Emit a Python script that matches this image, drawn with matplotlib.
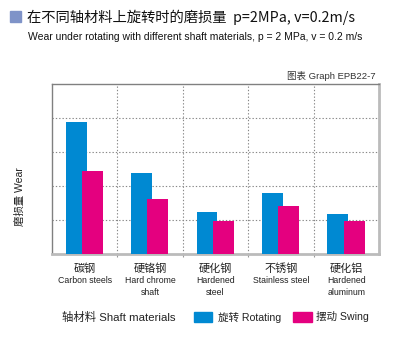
import matplotlib
matplotlib.use('Agg')
import matplotlib.pyplot as plt
from matplotlib.patches import Rectangle

# data
cats_cn = ['碳钢', '硬铬钢', '硬化钢', '不锈钢', '硬化铝']
cats_en = ['Carbon steels', 'Hard chrome\nshaft', 'Hardened\nsteel', 'Stainless steel', 'Hardened\naluminum']
rotating = [3.87, 2.37, 1.24, 1.79, 1.18]
swing = [2.45, 1.62, 0.98, 1.41, 0.98]

BLUE = '#0089D2'
PINK = '#E4007F'
LAT = ['Liberation Sans', 'Noto Sans CJK SC']

W, H = 400, 360
fig = plt.figure(figsize=(4, 3.6), dpi=100)

def fx(x):
    return x / W

def fy(y):
    return 1 - y / H

ax = fig.add_axes([fx(52), fy(254), fx(379) - fx(52), fy(84) - fy(254)])

xs = [i + 0.5 for i in range(len(cats_cn))]
ax.bar([x - 0.13 for x in xs], rotating, width=0.32, color=BLUE, zorder=3)
ax.bar([x + 0.12 for x in xs], swing, width=0.32, color=PINK, zorder=4)

ax.set_xlim(0, 5)
ax.set_ylim(0, 5)
ax.set_yticks([1, 2, 3, 4])
ax.set_xticks([1, 2, 3, 4])
ax.tick_params(left=False, labelleft=False, labelbottom=False,
               bottom=True, length=2, color='#999999', direction='out')
ax.grid(True, linestyle=(0, (1.2, 1.8)), color='#888888', linewidth=0.8, zorder=1)

for s in ['top', 'left']:
    ax.spines[s].set_color('#808080')
    ax.spines[s].set_linewidth(1.0)
for s in ['bottom', 'right']:
    ax.spines[s].set_color('#BBBBBB')
    ax.spines[s].set_linewidth(2.0)

# category labels
for x, cn, en in zip(xs, cats_cn, cats_en):
    xp = 52 + x * (379 - 52) / 5
    fig.text(fx(xp), fy(269), cn, ha='center', va='center', fontsize=8,
             family=['Noto Sans CJK SC'], color='#222222')
    fig.text(fx(xp), fy(276), en, ha='center', va='top', fontsize=6.3,
             family=LAT, color='#222222', linespacing=1.4)

# title block
fig.add_artist(Rectangle((fx(10), fy(22)), fx(10.5), fy(11.5) - fy(22),
                         transform=fig.transFigure, color='#7F93C8'))
fig.text(fx(27), fy(17), '在不同轴材料上旋转时的磨损量  p=2MPa, v=0.2m/s',
         ha='left', va='center', fontsize=10.3, family=['Noto Sans CJK SC'],
         color='#111111')
fig.text(fx(28), fy(37.5),
         'Wear under rotating with different shaft materials, p = 2 MPa, v = 0.2 m/s',
         ha='left', va='center', fontsize=7.5, family=LAT, color='#111111')
fig.text(fx(376), fy(76), '图表 Graph EPB22-7', ha='right', va='center',
         fontsize=6.8, family=LAT, color='#333333')

# y label
fig.text(fx(20), fy(197), '磨损量 Wear', rotation=90, ha='center', va='center',
         fontsize=7.5, family=LAT, color='#222222')

# bottom legend row
fig.text(fx(62), fy(317), '轴材料 Shaft materials', ha='left', va='center',
         fontsize=8.2, family=LAT, color='#222222')
fig.add_artist(Rectangle((fx(194), fy(322)), fx(18), fy(312) - fy(322),
                         transform=fig.transFigure, color=BLUE))
fig.text(fx(218), fy(317), '旋转 Rotating', ha='left', va='center',
         fontsize=7.6, family=LAT, color='#222222')
fig.add_artist(Rectangle((fx(293), fy(322)), fx(19), fy(312) - fy(322),
                         transform=fig.transFigure, color=PINK))
fig.text(fx(316), fy(317), '摆动 Swing', ha='left', va='center',
         fontsize=7.6, family=LAT, color='#222222')

fig.savefig('out.png', dpi=100)
